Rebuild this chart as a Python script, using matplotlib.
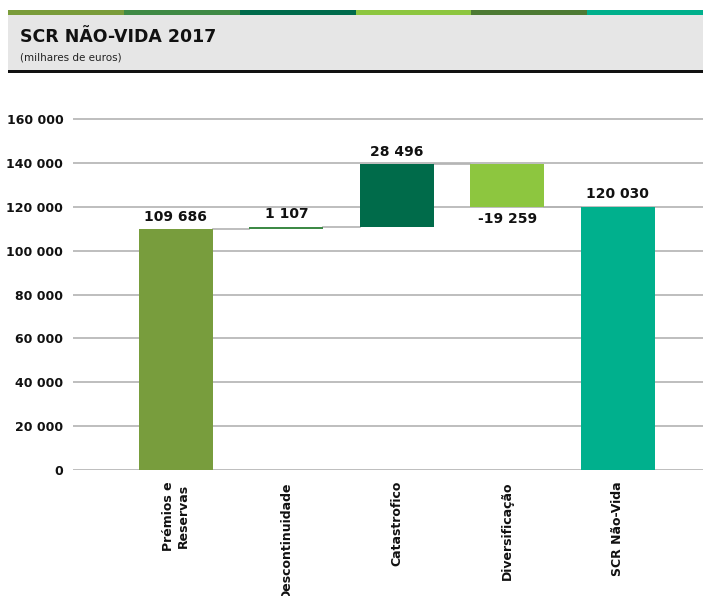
import matplotlib.pyplot as plt
import matplotlib.patches as mpatches
import numpy as np

# Dados (milhares de euros)
categorias = ['Prémios e\nReservas', 'Descontinuidade', 'Catastrofico', 'Diversificação', 'SCR Não-Vida']
valores = [109686, 1107, 28496, -19259, 120030]
e_total = [False, False, False, False, True]
cores = ['#789d3d', '#3e8a46', '#006b4a', '#8dc63f', '#00b08d']
yticks = [0, 20000, 40000, 60000, 80000, 100000, 120000, 140000, 160000]
faixa_cores = ['#7a9c3a', '#3f8a45', '#006b4c', '#8dc63f', '#4d7a34', '#00b08c']


def fmt(v):
    return f'{v:,.0f}'.replace(',', ' ')


# Cálculo das bases da cascata
bases = []
topos = []
acumulado = 0
for v, tot in zip(valores, e_total):
    if tot:
        bases.append(0)
        topos.append(v)
        acumulado = v
    else:
        novo = acumulado + v
        bases.append(min(acumulado, novo))
        topos.append(max(acumulado, novo))
        acumulado = novo
alturas = [t - b for t, b in zip(topos, bases)]

plt.rcParams['font.family'] = ['DejaVu Sans']
fig = plt.figure(figsize=(7.03, 5.96), dpi=100)

# Cabeçalho: faixa colorida, caixa cinzenta e linha preta
W, H = 703, 596
x0 = 8
seg = (W - x0) / len(faixa_cores)
for i, c in enumerate(faixa_cores):
    fig.patches.append(mpatches.Rectangle(((x0 + i * seg) / W, 1 - 15 / H), seg / W, 5 / H,
                                          transform=fig.transFigure, color=c, lw=0))
fig.patches.append(mpatches.Rectangle((x0 / W, 1 - 70 / H), (W - x0) / W, 55 / H,
                                      transform=fig.transFigure, color='#e6e6e6', lw=0))
fig.patches.append(mpatches.Rectangle((x0 / W, 1 - 73 / H), (W - x0) / W, 3 / H,
                                      transform=fig.transFigure, color='#111111', lw=0))
fig.text(20 / W, 1 - 37 / H, 'SCR NÃO-VIDA 2017', fontsize=12.5, fontweight='bold',
         va='center', ha='left', color='#111111')
fig.text(20 / W, 1 - 58 / H, '(milhares de euros)', fontsize=7.5, va='center', ha='left',
         color='#222222')

# Eixos
topo_y = 162000
px_por_un = 351 / 160000
ax_bottom = 1 - 470 / H
ax_height = topo_y * px_por_un / H
ax = fig.add_axes([73 / W, ax_bottom, 1 - 73 / W, ax_height])

x = np.arange(len(categorias))
largura = 0.67
ax.bar(x, alturas, bottom=bases, width=largura, color=cores, zorder=3)

# Linhas de ligação
niveis = [109686, 110793, 139289, 120030]
for i, nv in enumerate(niveis):
    ax.plot([x[i] + largura / 2, x[i + 1] - largura / 2], [nv, nv], color='#b3b3b3', lw=1.2, zorder=2)

# Rótulos dos valores
for i, v in enumerate(valores):
    if v >= 0:
        ax.text(x[i], topos[i] + 2500, fmt(v), ha='center', va='bottom', fontsize=10,
                fontweight='bold', color='#111111')
    else:
        ax.text(x[i], bases[i] - 2500, fmt(v), ha='center', va='top', fontsize=10,
                fontweight='bold', color='#111111')

ax.set_ylim(0, topo_y)
ax.set_xlim(-0.93, 4.77)
ax.set_yticks(yticks)
ax.set_yticklabels([fmt(t) for t in yticks], fontsize=9, fontweight='bold', color='#111111')
ax.set_xticks(x)
ax.set_xticklabels(categorias, rotation=90, fontsize=9, fontweight='bold', color='#111111',
                   va='top', ha='center', multialignment='center')
ax.tick_params(axis='both', length=0)
ax.tick_params(axis='y', pad=7)
ax.tick_params(axis='x', pad=8)
for s in ax.spines.values():
    s.set_visible(False)
ax.grid(axis='y', color='#b3b3b3', lw=1.2, zorder=0)
ax.set_axisbelow(True)

fig.savefig('out.png', dpi=100)
